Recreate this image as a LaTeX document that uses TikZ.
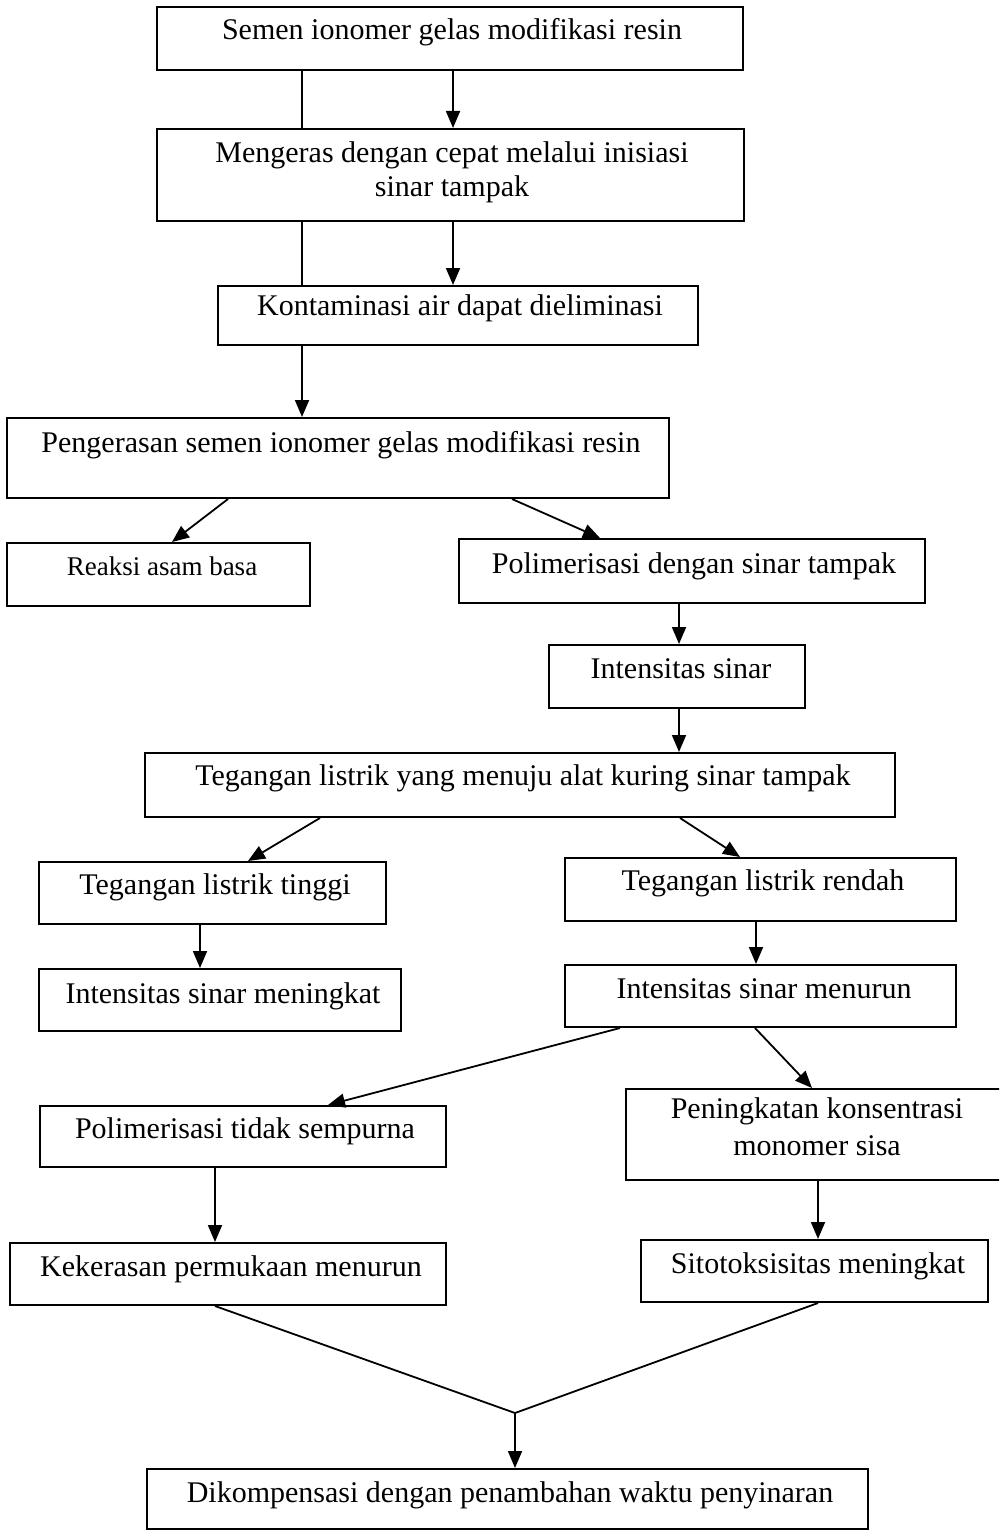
\documentclass[tikz,border=0pt]{standalone}
\usepackage{fontspec}
\setmainfont{Liberation Serif}
\usetikzlibrary{arrows.meta}
\tikzset{
  box/.style={draw, line width=2pt, rectangle, inner sep=0pt},
  txt/.style={anchor=base, inner sep=0pt, font=\fontsize{30}{36}\selectfont},
  conn/.style={line width=1.8pt},
  arr/.style={conn, -{Triangle[length=17pt,width=14pt]}}
}
\begin{document}
\begin{tikzpicture}[x=1pt,y=-1pt]
\useasboundingbox (0,0) rectangle (999,1530);
\fill[white] (0,0) rectangle (999,1530);
\begin{scope}
\clip (0,0) rectangle (999,1530);
% boxes
\node[box, minimum width=586, minimum height=63] (b1) at (450,38.5) {};
\node[box, minimum width=587, minimum height=92] (b2) at (450.5,175) {};
\node[box, minimum width=480, minimum height=59] (b3) at (458,315.5) {};
\node[box, minimum width=662, minimum height=80] (b4) at (338,458) {};
\node[box, minimum width=303, minimum height=63] (b5) at (158.5,574.5) {};
\node[box, minimum width=466, minimum height=64] (b6) at (692,571) {};
\node[box, minimum width=256, minimum height=63] (b7) at (677,676.5) {};
\node[box, minimum width=750, minimum height=64] (b8) at (520,785) {};
\node[box, minimum width=347, minimum height=62] (b9) at (212.5,893) {};
\node[box, minimum width=391, minimum height=63] (b10) at (760.5,889.5) {};
\node[box, minimum width=362, minimum height=62] (b11) at (220,1000) {};
\node[box, minimum width=391, minimum height=62] (b12) at (760.5,996) {};
\node[box, minimum width=406, minimum height=61] (b13) at (243,1136.5) {};
\node[box, minimum width=379, minimum height=91] (b14) at (815.5,1134.5) {};
\node[box, minimum width=436, minimum height=62] (b15) at (228,1274) {};
\node[box, minimum width=347, minimum height=62] (b16) at (814.5,1271) {};
\node[box, minimum width=721, minimum height=60] (b17) at (507.5,1499) {};
\end{scope}
% texts
\node[txt] (t1) at (452,40) {Semen ionomer gelas modifikasi resin};
\node[txt] (t2a) at (452,163) {Mengeras dengan cepat melalui inisiasi};
\node[txt] (t2b) at (452,197) {sinar tampak};
\node[txt] (t3) at (460,315) {Kontaminasi air dapat dieliminasi};
\node[txt] (t4) at (341,452) {Pengerasan semen ionomer gelas modifikasi resin};
\node[txt, font=\fontsize{27}{32}\selectfont] (t5) at (162,575) {Reaksi asam basa};
\node[txt] (t6) at (694,573) {Polimerisasi dengan sinar tampak};
\node[txt] (t7) at (681,678) {Intensitas sinar};
\node[txt] (t8) at (523,785) {Tegangan listrik yang menuju alat kuring sinar tampak};
\node[txt] (t9) at (215,894) {Tegangan listrik tinggi};
\node[txt] (t10) at (763,890) {Tegangan listrik rendah};
\node[txt] (t11) at (223,1003) {Intensitas sinar meningkat};
\node[txt] (t12) at (764,998) {Intensitas sinar menurun};
\node[txt] (t13) at (245,1138) {Polimerisasi tidak sempurna};
\node[txt] (t14a) at (817,1118) {Peningkatan konsentrasi};
\node[txt] (t14b) at (817,1155) {monomer sisa};
\node[txt] (t15) at (231,1276) {Kekerasan permukaan menurun};
\node[txt] (t16) at (818,1273) {Sitotoksisitas meningkat};
\node[txt] (t17) at (510,1502) {Dikompensasi dengan penambahan waktu penyinaran};
% connectors
\draw[conn] (b1.south -| 302,0) -- (b2.north -| 302,0);
\draw[arr] (b1.south -| 453,0) -- (b2.north -| 453,0);
\draw[conn] (b2.south -| 302,0) -- (b3.north -| 302,0);
\draw[arr] (b2.south -| 453,0) -- (b3.north -| 453,0);
\draw[arr] (b3.south -| 302,0) -- (b4.north -| 302,0);
\draw[arr] (b4.south -| 228,0) -- (b5.north -| 172,0);
\draw[arr] (b4.south -| 512,0) -- (b6.north -| 600,0);
\draw[arr] (b6.south -| 679,0) -- (b7.north -| 679,0);
\draw[arr] (b7.south -| 679,0) -- (b8.north -| 679,0);
\draw[arr] (b8.south -| 320,0) -- (b9.north -| 248,0);
\draw[arr] (b8.south -| 680,0) -- (b10.north -| 740,0);
\draw[arr] (b9.south -| 200,0) -- (b11.north -| 200,0);
\draw[arr] (b10.south -| 756,0) -- (b12.north -| 756,0);
\draw[arr] (b12.south -| 620,0) -- (b13.north -| 328,0);
\draw[arr] (b12.south -| 755,0) -- (b14.north -| 812,0);
\draw[arr] (b13.south -| 215,0) -- (b15.north -| 215,0);
\draw[arr] (b14.south -| 818,0) -- (b16.north -| 818,0);
\coordinate (j) at (515,1413);
\draw[conn] (b15.south -| 215,0) -- (j);
\draw[conn] (b16.south -| 818,0) -- (j);
\draw[arr] (j) -- (b17.north -| 515,0);
\end{tikzpicture}
\end{document}
